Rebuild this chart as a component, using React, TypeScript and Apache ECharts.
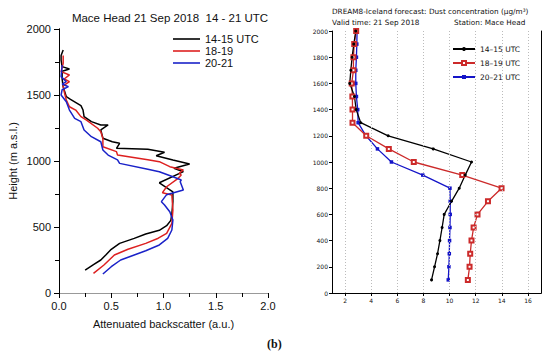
import React, { useEffect, useRef } from "react";
import * as echarts from "echarts";

// ---- Left panel: lidar attenuated backscatter (value, height m) ----
const lidarNames = ["14-15 UTC", "18-19", "20-21"];
const lidar1415: [number, number][] = [
  [0.04, 1841], [0.02, 1800], [0.02, 1765], [0.03, 1715], [0.10, 1697], [0.03, 1680], [0.03, 1620],
  [0.04, 1563], [0.07, 1487], [0.11, 1467], [0.21, 1420], [0.23, 1386], [0.24, 1336], [0.31, 1298],
  [0.40, 1273], [0.47, 1273], [0.40, 1235], [0.42, 1172], [0.51, 1146], [0.58, 1134], [0.55, 1096],
  [0.85, 1089], [1.01, 1066], [0.93, 1040], [1.09, 1008], [1.25, 977], [1.10, 945], [1.19, 919],
  [0.96, 835], [1.09, 767], [1.09, 692], [1.08, 600], [1.07, 550], [1.03, 510], [0.96, 475],
  [0.83, 447], [0.72, 414], [0.58, 376], [0.50, 331], [0.45, 290], [0.40, 250], [0.33, 215], [0.25, 174],
];
const lidar1819: [number, number][] = [
  [0.04, 1800], [0.04, 1740], [0.02, 1677], [0.10, 1652], [0.05, 1621], [0.10, 1601], [0.04, 1570],
  [0.05, 1525], [0.07, 1462], [0.10, 1411], [0.16, 1386], [0.21, 1336], [0.26, 1311], [0.37, 1248],
  [0.40, 1222], [0.42, 1172], [0.42, 1108], [0.55, 1071], [0.56, 1045], [0.85, 1010], [0.96, 995],
  [1.06, 957], [1.19, 932], [1.15, 907], [1.17, 894], [1.14, 869], [1.03, 805], [0.99, 760],
  [1.08, 742], [1.09, 629], [1.08, 528], [1.03, 452], [0.95, 415], [0.83, 376], [0.66, 331],
  [0.53, 288], [0.43, 212], [0.33, 149],
];
const lidar2021: [number, number][] = [
  [0.03, 1727], [0.02, 1639], [0.07, 1601], [0.03, 1583], [0.09, 1563], [0.03, 1540], [0.02, 1500],
  [0.07, 1449], [0.10, 1386], [0.15, 1323], [0.21, 1298], [0.24, 1235], [0.31, 1184], [0.40, 1146],
  [0.42, 1083], [0.47, 1045], [0.56, 1008], [0.58, 982], [0.85, 937], [0.96, 919], [1.09, 881],
  [1.17, 856], [1.16, 843], [1.19, 780], [1.03, 745], [0.98, 692], [1.01, 667], [1.06, 616],
  [1.09, 553], [1.08, 477], [1.04, 414], [0.96, 364], [0.83, 320], [0.72, 288], [0.59, 250],
  [0.50, 199], [0.42, 144],
];

// ---- Right panel: DREAM8 dust concentration (ug/m3) at heights ----
const dreamNames = ["14–15 UTC", "18–19 UTC", "20–21 UTC"];
const dreamHeights = [100, 200, 300, 400, 500, 600, 700, 800, 900, 1000, 1100, 1200, 1300, 1400, 1500, 1600, 1700, 1800, 1900, 2000];
const dream1415 = [8.62, 8.85, 9.08, 9.26, 9.43, 9.59, 10.15, 10.74, 11.2, 11.68, 8.75, 5.3, 3.2, 2.85, 2.72, 2.36, 2.44, 2.54, 2.67, 2.82];
const dream1819 = [11.4, 11.53, 11.58, 11.68, 11.84, 12.14, 12.94, 13.98, 10.97, 7.26, 5.35, 3.62, 2.57, 2.57, 2.56, 2.51, 2.64, 2.64, 2.7, 2.85];
const dream2021 = [9.9, 9.95, 9.98, 10.0, 10.03, 10.05, 10.05, 10.03, 7.95, 5.55, 4.48, 3.6, 3.0, 2.97, 2.87, 2.82, 2.82, 2.87, 2.9, 2.92];
const dreamTicks = [2, 4, 6, 8, 10, 12, 14, 16];

const FONT = "Liberation Sans, Arial, sans-serif";
const GFONT = "DejaVu Sans, sans-serif";

export default function App() {
  const ref = useRef<HTMLDivElement>(null);
  useEffect(() => {
    if (!ref.current) return;
    const chart = echarts.init(ref.current, undefined, { renderer: "svg" });
    const pair = (xs: number[]) => xs.map((v, i) => [v, dreamHeights[i]]);
    const plain = (v: number) => String(v);
    const option: any = {
      animation: false,
      backgroundColor: "#fff",
      textStyle: { fontFamily: FONT },
      title: [
        {
          text: "Mace Head 21 Sep 2018  14 - 21 UTC",
          left: 165, top: 7, textAlign: "center",
          textStyle: { fontSize: 11.5, fontWeight: "normal", color: "#111", fontFamily: FONT },
        },
        {
          text: "DREAM8-Iceland forecast: Dust concentration (μg/m³)",
          left: 332, top: 8, padding: 0,
          textStyle: { fontSize: 7.3, fontWeight: "normal", color: "#111", fontFamily: GFONT },
        },
        {
          text: "Valid time: 21 Sep 2018",
          left: 332, top: 19, padding: 0,
          textStyle: { fontSize: 7.3, fontWeight: "normal", color: "#111", fontFamily: GFONT },
        },
        {
          text: "Station: Mace Head",
          left: 454, top: 19, padding: 0,
          textStyle: { fontSize: 7.3, fontWeight: "normal", color: "#111", fontFamily: GFONT },
        },
      ],
      legend: [
        {
          data: lidarNames.map((n) => ({ name: n, icon: "rect" })),
          orient: "vertical", left: 173, top: 33, padding: 0,
          itemWidth: 27, itemHeight: 1.6, itemGap: 0,
          textStyle: { fontSize: 11, color: "#111", fontFamily: FONT, lineHeight: 12 },
        },
        {
          data: dreamNames, orient: "vertical", left: 452, top: 45, padding: 0,
          itemWidth: 22, itemHeight: 5, itemGap: 6,
          textStyle: { fontSize: 7.5, color: "#111", fontFamily: GFONT },
        },
      ],
      grid: [
        { left: 59, top: 29, width: 209, height: 264 },
        { left: 332, top: 31, width: 209, height: 262 },
      ],
      xAxis: [
        {
          gridIndex: 0, type: "value", min: 0, max: 2, interval: 0.5, position: "bottom",
          name: "Attenuated backscatter (a.u.)", nameLocation: "middle", nameGap: 25,
          nameTextStyle: { fontSize: 11, color: "#111", fontFamily: FONT },
          axisLine: { lineStyle: { color: "#000", width: 1 } },
          axisTick: { show: true, inside: false, length: 5, lineStyle: { color: "#000" } },
          minorTick: { show: true, splitNumber: 2, length: 4, lineStyle: { color: "#000" } },
          axisLabel: { fontSize: 11, color: "#111", margin: 7, formatter: (v: number) => v.toFixed(1) },
          splitLine: { show: false },
        },
        {
          gridIndex: 0, type: "value", min: 0, max: 2, position: "top",
          axisLine: { show: true, lineStyle: { color: "#999" } },
          axisTick: { show: false }, axisLabel: { show: false }, splitLine: { show: false },
        },
        {
          gridIndex: 1, type: "value", min: 1, max: 17, position: "bottom",
          axisLine: { lineStyle: { color: "#000", width: 1 } },
          axisTick: { show: true, length: 3, customValues: dreamTicks, lineStyle: { color: "#000" } },
          axisLabel: { fontSize: 6, color: "#111", margin: 4, customValues: dreamTicks, fontFamily: GFONT },
          splitLine: { show: false },
        },
        {
          gridIndex: 1, type: "value", min: 1, max: 17, position: "top",
          axisLine: { show: true, lineStyle: { color: "#000" } },
          axisTick: { show: true, inside: true, length: 2, customValues: dreamTicks },
          axisLabel: { show: false }, splitLine: { show: false },
        },
      ],
      yAxis: [
        {
          gridIndex: 0, type: "value", min: 0, max: 2000, interval: 500, position: "left",
          name: "Height (m a.s.l.)", nameLocation: "middle", nameGap: 41,
          nameTextStyle: { fontSize: 11, color: "#111", fontFamily: FONT },
          axisLine: { show: true, lineStyle: { color: "#000" } },
          axisTick: { show: true, length: 5, lineStyle: { color: "#000" } },
          minorTick: { show: true, splitNumber: 2, length: 4, lineStyle: { color: "#000" } },
          axisLabel: { fontSize: 11, color: "#111", margin: 8, formatter: plain },
          splitLine: { show: false },
        },
        {
          gridIndex: 0, type: "value", min: 0, max: 2000, interval: 250, position: "right",
          axisLine: { show: true, lineStyle: { color: "#000" } },
          axisTick: { show: true, inside: true, length: 4, lineStyle: { color: "#000" } },
          axisLabel: { show: false }, splitLine: { show: false },
        },
        {
          gridIndex: 1, type: "value", min: 0, max: 2000, interval: 200, position: "left",
          axisLine: { show: true, lineStyle: { color: "#000" } },
          axisTick: { show: true, length: 3, lineStyle: { color: "#000" } },
          axisLabel: { fontSize: 6, color: "#111", margin: 4, fontFamily: GFONT, formatter: plain },
          splitLine: { show: false },
        },
        {
          gridIndex: 1, type: "value", min: 0, max: 2000, position: "right",
          axisLine: { show: true, lineStyle: { color: "#000" } },
          axisTick: { show: false }, axisLabel: { show: false }, splitLine: { show: false },
        },
      ],
      series: [
        {
          name: "grid", type: "line", xAxisIndex: 2, yAxisIndex: 2, data: [], z: 1, silent: true,
          markLine: {
            silent: true, symbol: "none", label: { show: false },
            lineStyle: { color: "#bbb", type: [1, 2], width: 1 },
            data: dreamTicks.map((v) => ({ xAxis: v })),
          },
        },
        {
          name: lidarNames[0], type: "line", xAxisIndex: 0, yAxisIndex: 0, data: lidar1415,
          showSymbol: false, symbol: "none", lineStyle: { color: "#000", width: 1.5 }, itemStyle: { color: "#000" },
        },
        {
          name: lidarNames[1], type: "line", xAxisIndex: 0, yAxisIndex: 0, data: lidar1819,
          showSymbol: false, symbol: "none", lineStyle: { color: "#dd2020", width: 1.5 }, itemStyle: { color: "#dd2020" },
        },
        {
          name: lidarNames[2], type: "line", xAxisIndex: 0, yAxisIndex: 0, data: lidar2021,
          showSymbol: false, symbol: "none", lineStyle: { color: "#1a22c8", width: 1.5 }, itemStyle: { color: "#1a22c8" },
        },
        {
          name: dreamNames[2], type: "line", xAxisIndex: 2, yAxisIndex: 2, data: pair(dream2021),
          symbol: "rect", symbolSize: 3.5, lineStyle: { color: "#1414c8", width: 1.3 }, itemStyle: { color: "#1414c8" },
        },
        {
          name: dreamNames[1], type: "line", xAxisIndex: 2, yAxisIndex: 2, data: pair(dream1819),
          symbol: "emptyRect", symbolSize: 4, lineStyle: { color: "#cc2a2a", width: 1.3 },
          itemStyle: { color: "#cc2a2a", borderWidth: 1 },
        },
        {
          name: dreamNames[0], type: "line", xAxisIndex: 2, yAxisIndex: 2, data: pair(dream1415),
          symbol: "circle", symbolSize: 3, lineStyle: { color: "#000", width: 1.3 }, itemStyle: { color: "#000" },
        },
      ],
      graphic: [
        {
          type: "text", left: 267, top: 338,
          style: { text: "(b)", font: "bold 12px 'Liberation Serif', serif", fill: "#111" },
        },
      ],
    };
    chart.setOption(option);
    return () => chart.dispose();
  }, []);
  return <div ref={ref} style={{ width: 550, height: 357, position: "absolute", left: 0, top: 0 }} />;
}
